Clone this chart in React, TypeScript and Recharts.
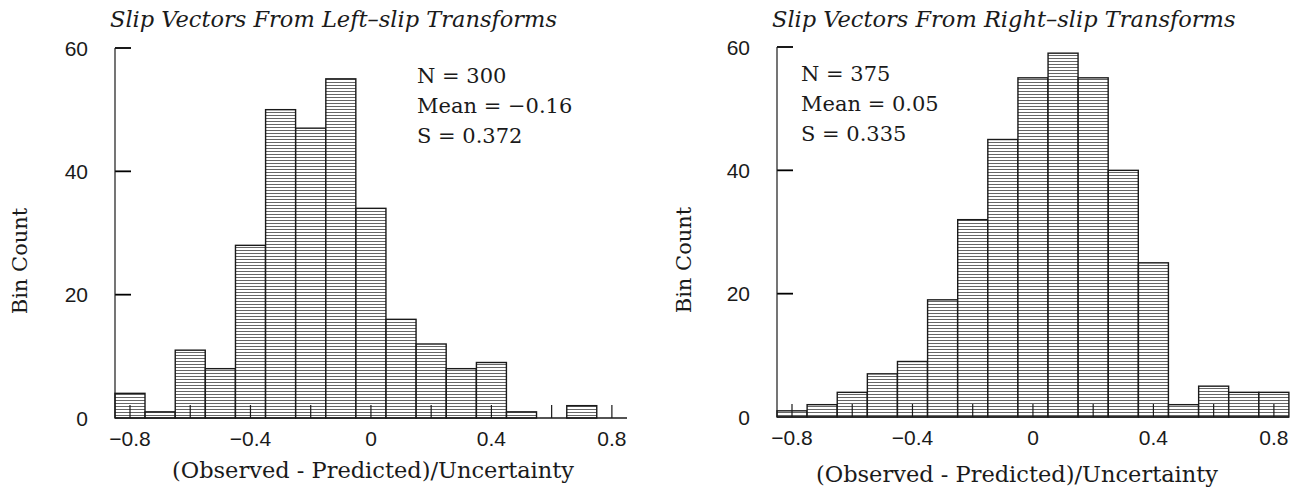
import React from "react";
import { BarChart, Bar, XAxis, YAxis, Label, ReferenceLine } from "recharts";

// histogram bins (centres), counts
const binCenters = [-0.8, -0.7, -0.6, -0.5, -0.4, -0.3, -0.2, -0.1, 0, 0.1, 0.2, 0.3, 0.4, 0.5, 0.6, 0.7, 0.8];
const leftCounts = [4, 1, 11, 8, 28, 50, 47, 55, 34, 16, 12, 8, 9, 1, 0, 2, 0];
const rightCounts = [1, 2, 4, 7, 9, 19, 32, 45, 55, 59, 55, 40, 25, 2, 5, 4, 4];

const markedTicks = [-0.8, -0.6, -0.4, -0.2, 0, 0.2, 0.4, 0.6, 0.8];
const labeledTicks = [-0.8, -0.4, 0, 0.4, 0.8];
const yTicks = [0, 20, 40, 60];
const yMarks = [20, 40, 60];

const leftTitle = "Slip Vectors From Left\u2013slip Transforms";
const rightTitle = "Slip Vectors From Right\u2013slip Transforms";
const leftStats = ["N = 300", "Mean = \u22120.16", "S = 0.372"];
const rightStats = ["N = 375", "Mean = 0.05", "S = 0.335"];
const xLabel = "(Observed - Predicted)/Uncertainty";
const yLabel = "Bin Count";

const SERIF = "'DejaVu Serif', serif";
const SANS = "'Liberation Sans', Arial, sans-serif";
const INK = "#1a1a1a";

const near = (arr: number[], v: number) => arr.some((t) => Math.abs(t - v) < 1e-6);
const fmtTick = (v: number) => (Math.abs(v) < 1e-9 ? "0" : v < 0 ? "\u2212" + Math.abs(v).toFixed(1) : v.toFixed(1));

function XTick(props: any) {
  const { x, y, payload } = props;
  const v = Number(payload.value);
  if (!near(labeledTicks, v)) return <g />;
  return (
    <text x={x} y={y} textAnchor="middle" dominantBaseline="central" fontFamily={SANS} fontSize={21} fill={INK}>
      {fmtTick(v)}
    </text>
  );
}

function YTick(props: any) {
  const { x, y, payload } = props;
  return (
    <text x={x} y={y} textAnchor="end" dominantBaseline="central" fontFamily={SANS} fontSize={21} fill={INK}>
      {payload.value}
    </text>
  );
}

// bar outline + hatch, with the inward x tick mark drawn on top of it
function HatchBar(props: any) {
  const { x, y, width, height, fill, payload } = props;
  const base = y + height;
  const cx = x + width / 2;
  return (
    <g>
      {height > 0 && <rect x={x} y={y} width={width} height={height} fill={fill} stroke={INK} strokeWidth={1.4} />}
      {near(markedTicks, payload.bin) && (
        <path d={`M${cx},${base}v-13`} stroke={INK} strokeWidth={1.2} fill="none" />
      )}
    </g>
  );
}

// short inward tick on the y axis
function YMark(props: any) {
  const x1 = Number(props.x1);
  const y1 = Number(props.y1);
  return <path d={`M${x1},${y1}h16`} stroke="#000" strokeWidth={1.8} fill="none" />;
}

interface PanelProps {
  id: string;
  counts: number[];
  axisWidth: number;
  top: number;
  yLabelX: number;
  xLabelShift: number;
  xLabelDrop: number;
}

function Panel({ id, counts, axisWidth, top, yLabelX, xLabelShift, xLabelDrop }: PanelProps) {
  const data = binCenters.map((c, i) => ({ bin: c, count: counts[i] }));
  const bottom = 491 - top - 370;
  return (
    <BarChart
      width={645}
      height={491}
      data={data}
      barCategoryGap={0}
      margin={{ top, right: 645 - axisWidth - 512, left: 0, bottom: 0 }}
    >
      <defs>
        <pattern id={id} patternUnits="userSpaceOnUse" width={6} height={3}>
          <rect width={6} height={3} fill="#fff" />
          <line x1={0} x2={6} y1={1.5} y2={1.5} stroke="#555" strokeWidth={0.9} />
        </pattern>
      </defs>
      <Bar dataKey="count" fill={`url(#${id})`} shape={<HatchBar />} isAnimationActive={false} />
      <XAxis
        dataKey="bin"
        type="category"
        interval={0}
        height={bottom}
        tickSize={0}
        tickMargin={20}
        tick={<XTick />}
        axisLine={{ stroke: INK, strokeWidth: 1.4 }}
        tickLine={false}
      >
        <Label
          content={(p: any) => {
            const vb = p.viewBox;
            return (
              <text
                x={vb.x + vb.width / 2 + xLabelShift}
                y={vb.y + xLabelDrop}
                textAnchor="middle"
                dominantBaseline="central"
                fontFamily={SERIF}
                fontSize={22.5}
                fill={INK}
              >
                {xLabel}
              </text>
            );
          }}
        />
      </XAxis>
      <YAxis
        domain={[0, 60]}
        ticks={yTicks}
        width={axisWidth}
        tickSize={0}
        tickMargin={27}
        tick={<YTick />}
        tickLine={false}
        axisLine={{ stroke: INK, strokeWidth: 1.2 }}
      >
        <Label
          content={(p: any) => {
            const vb = p.viewBox;
            const cy = vb.y + vb.height / 2 + 28;
            return (
              <text
                x={yLabelX}
                y={cy}
                transform={`rotate(-90 ${yLabelX} ${cy})`}
                textAnchor="middle"
                dominantBaseline="central"
                fontFamily={SERIF}
                fontSize={21}
                fill={INK}
              >
                {yLabel}
              </text>
            );
          }}
        />
      </YAxis>
      {yMarks.map((t) => (
        <ReferenceLine key={t} y={t} ifOverflow="visible" shape={<YMark />} />
      ))}
    </BarChart>
  );
}

const titleStyle: React.CSSProperties = {
  position: "absolute",
  fontFamily: SERIF,
  fontStyle: "italic",
  fontSize: 22.5,
  lineHeight: "22px",
  color: INK,
  whiteSpace: "nowrap",
};

const statStyle: React.CSSProperties = {
  position: "absolute",
  fontFamily: SERIF,
  fontSize: 21,
  lineHeight: "30px",
  color: INK,
  whiteSpace: "nowrap",
};

export default function App() {
  return (
    <div style={{ position: "absolute", left: 0, top: 0, width: 1290, height: 491, background: "#fff" }}>
      <div style={{ position: "absolute", left: 0, top: 0 }}>
        <Panel id="hatchL" counts={leftCounts} axisWidth={115} top={48} yLabelX={20} xLabelShift={2} xLabelDrop={52} />
      </div>
      <div style={{ position: "absolute", left: 645, top: 0 }}>
        <Panel id="hatchR" counts={rightCounts} axisWidth={132} top={47} yLabelX={39} xLabelShift={-16} xLabelDrop={57} />
      </div>
      <div style={{ ...titleStyle, left: 110, top: 8 }}>{leftTitle}</div>
      <div style={{ ...titleStyle, left: 772, top: 8 }}>{rightTitle}</div>
      <div style={{ ...statStyle, left: 417, top: 61 }}>
        {leftStats.map((s) => (
          <div key={s}>{s}</div>
        ))}
      </div>
      <div style={{ ...statStyle, left: 801, top: 59 }}>
        {rightStats.map((s) => (
          <div key={s}>{s}</div>
        ))}
      </div>
    </div>
  );
}
